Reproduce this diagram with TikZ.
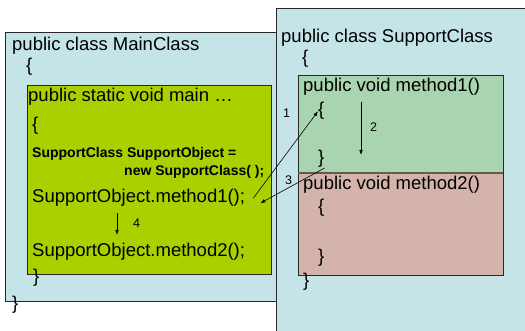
\documentclass[tikz,border=0pt]{standalone}
\usepackage{fontspec}
\setmainfont{Liberation Sans}
\usetikzlibrary{arrows.meta,calc}
\definecolor{ClassClr}{RGB}{197,228,232}
\definecolor{MainClr}{RGB}{170,208,0}
\definecolor{MethOneClr}{RGB}{168,212,176}
\definecolor{MethTwoClr}{RGB}{212,180,170}
\definecolor{EdgeClr}{RGB}{40,40,40}
\definecolor{SplitClr}{RGB}{105,88,82}

\tikzset{
  code/.style={anchor=base west,inner sep=0pt,font=\fontsize{18.5}{22}\selectfont},
  decl/.style={anchor=base west,inner sep=0pt,font=\fontsize{14}{17}\selectfont\bfseries},
  stepno/.style={anchor=base west,inner sep=0pt,font=\fontsize{12.5}{15}\selectfont},
  flow/.style={-{Latex[length=5pt,width=3.6pt]},line width=0.6pt},
  frame/.style={draw=EdgeClr,line width=0.9pt}
}

\begin{document}
\begin{tikzpicture}[x=1pt,y=-1pt]
\useasboundingbox (0,0) rectangle (525,331);

% class boxes
\fill[ClassClr] (276,8) rectangle (525,331);
\draw[frame] (276,331) -- (276,8) -- (525,8);
\filldraw[frame,fill=ClassClr] (5,32) rectangle (276,301);

% method boxes
\filldraw[frame,fill=MainClr] (27,85) rectangle (271,274);
\filldraw[frame,fill=MethOneClr] (298,75) rectangle (503,173);
\filldraw[frame,fill=MethTwoClr] (298,173) rectangle (503,275);
\draw[SplitClr,line width=1.3pt] (298,173) -- (503,173);

% MainClass text
\node[code] (mainHead) at (12,51) {public class MainClass};
\node[code] (mainOpen) at (26,72) {\{};
\node[code] (mainClose) at (12,309) {\}};
\node[code] (staticHead) at (28,102) {public static void main …};
\node[code] (staticOpen) at (32,131) {\{};
\node[decl] (declOne) at (32,158) {SupportClass SupportObject =};
\node[decl] (declTwo) at (124,176) {new SupportClass( );};
\node[code] (callOne) at (32,203) {SupportObject.method1();};
\node[code] (callTwo) at (32,257) {SupportObject.method2();};
\node[code] (staticClose) at (33,283) {\}};

% SupportClass text
\node[code] (supHead) at (281,43) {public class SupportClass};
\node[code] (supOpen) at (302,64) {\{};
\node[code] (oneHead) at (303,92) {public void method1()};
\node[code] (oneOpen) at (318,116) {\{};
\node[code] (oneClose) at (318,164) {\}};
\node[code] (twoHead) at (303,190) {public void method2()};
\node[code] (twoOpen) at (318,213) {\{};
\node[code] (twoClose) at (318,263) {\}};
\node[code] (supClose) at (303,287) {\}};

% step numbers
\node[stepno] (stepA) at (283,118) {1};
\node[stepno] (stepB) at (370,132) {2};
\node[stepno] (stepC) at (285,185) {3};
\node[stepno] (stepD) at (133,228) {4};

\coordinate (callOut) at ($(callOne.east)+(8,0)$);
\coordinate (callIn) at ($(callOne.east)+(15,5)$);
\coordinate (runTop) at (361,102);
\coordinate (runEnd) at (361,155);
\coordinate (nextTop) at (117,213);
\coordinate (nextEnd) at (117,235);

\draw[flow] (callOut) -- (oneOpen.west);
\draw[flow] (runTop) -- (runEnd);
\draw[flow] (oneClose.south east) -- (callIn);
\draw[flow] (nextTop) -- (nextEnd);

\end{tikzpicture}
\end{document}
